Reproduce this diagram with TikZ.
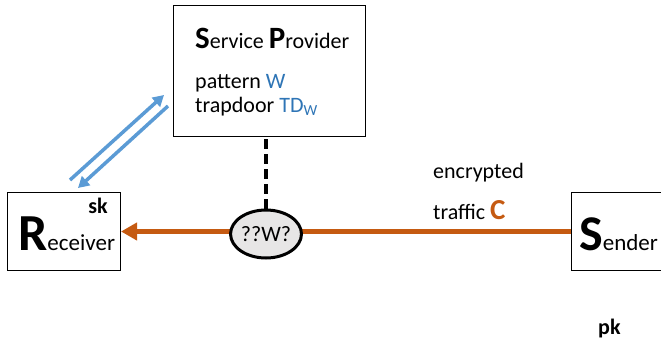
\documentclass[tikz,border=0pt]{standalone}
\usepackage{fontspec}
\setmainfont{Carlito}
\usetikzlibrary{arrows.meta,shapes.geometric}
\definecolor{tblue}{HTML}{2E75B6}
\definecolor{lblue}{HTML}{5B9BD5}
\definecolor{torange}{HTML}{C55A11}
\definecolor{egray}{HTML}{E7E6E6}
\newcommand{\fsz}[1]{\fontsize{#1}{#1}\selectfont}
\tikzset{
  boxnode/.style={draw=black, line width=1pt, fill=white, inner sep=0pt, anchor=north west},
  txt/.style={anchor=base west, inner sep=0pt, font=\fsz{22}},
  bluearrow/.style={draw=lblue, line width=3.5pt, -{Triangle[length=11pt,width=12pt]}},
  orangearrow/.style={draw=torange, line width=4.5pt, -{Triangle[length=16pt,width=17pt]}},
}
\begin{document}
\begin{tikzpicture}[x=1pt,y=-1pt]
\useasboundingbox (0,0) rectangle (661,340);
% boxes
\node[boxnode, minimum width=192pt, minimum height=131pt] (sp) at (173,5) {};
\node[boxnode, minimum width=113pt, minimum height=78pt] (rcv) at (7,192) {};
\node[boxnode, minimum width=100pt, minimum height=78pt] (snd) at (571,192) {};
% texts in service provider
\node[txt] (sptitle) at (195,48) {{\bfseries\fsz{31}S}ervice {\bfseries\fsz{31}P}rovider};
\node[txt] (sppat) at (195,88) {pattern \textcolor{tblue}{W}};
\node[txt] (sptrap) at (195,112) {trapdoor \textcolor{tblue}{TD\textsubscript{W}}};
% receiver
\node[txt] (rtext) at (18,250) {{\bfseries\fsz{52}R}\fsz{23}eceiver};
\node[anchor=base east, inner sep=0pt, font=\bfseries\fsz{22}] (sk) at (108,213) {sk};
% sender
\node[txt] (stext) at (579,250) {{\bfseries\fsz{50}S}\fsz{23}ender};
\node[txt, font=\bfseries\fsz{22}] (pk) at (598,334) {pk};
% traffic label
\node[txt] (enc) at (433,178) {encrypted};
\node[txt] (traf) at (433,219) {traffic {\bfseries\fsz{29}\textcolor{torange}{C}}};
% orange connector
\draw[orangearrow] (snd.west) -- (rcv.east);
% ellipse
\node[ellipse, draw=black, line width=3pt, fill=egray, minimum width=68pt, minimum height=48pt, inner sep=0pt, font=\fsz{22}] (ell) at (266,234) {??W?};
\draw[black, line width=4pt, dash pattern=on 10pt off 5pt] (ell.north) -- (ell.north |- sp.south);
% blue arrows
\coordinate (b1s) at (70,180);
\coordinate (b1e) at (164,95);
\coordinate (b2s) at (168,106);
\coordinate (b2e) at (78,188);
\draw[bluearrow] (b1s) -- (b1e);
\draw[bluearrow] (b2s) -- (b2e);
\end{tikzpicture}
\end{document}
